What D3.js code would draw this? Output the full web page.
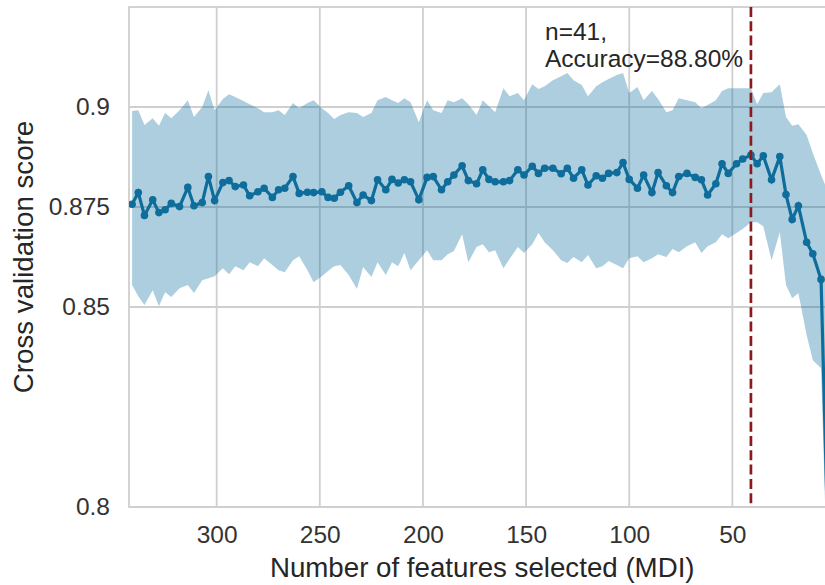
<!DOCTYPE html>
<html>
<head>
<meta charset="utf-8">
<script src="https://cdn.jsdelivr.net/npm/d3@7"></script>
<style>
  body { margin: 0; background: #fff; }
  text { font-family: "Liberation Sans", Arial, sans-serif; }
</style>
</head>
<body>
<div id="chart"></div>
<script>
// number of features kept at each RFECV step (x axis runs backwards)
var nFeatures = [341,338,335,331,328,325,322,318,314,311,
  307,304,301,297,294,291,287,284,280,277,
  273,270,267,263,260,256,253,249,246,243,
  240,236,232,229,225,222,218,215,212,209,
  206,202,198,195,191,188,185,181,178,174,
  171,168,165,161,158,154,151,147,144,141,
  137,133,130,127,123,120,116,113,110,106,
  103,100,96,93,89,86,82,79,76,72,
  68,65,62,58,55,52,48,45,41,38,
  35,31,27,24,21,18,14,11,7,3];

// mean cv score
var meanScore = [0.8757,0.8786,0.8729,0.8768,0.8736,0.8743,0.8759,0.8751,0.8799,0.8753,
  0.8761,0.8826,0.8766,0.8811,0.8816,0.8801,0.8805,0.8778,0.8788,0.8797,
  0.8774,0.8793,0.8797,0.8826,0.8784,0.8787,0.8786,0.8788,0.8774,0.8772,
  0.8787,0.8803,0.8761,0.8780,0.8766,0.8818,0.8793,0.8819,0.8810,0.8818,
  0.8813,0.8768,0.8824,0.8826,0.8793,0.8813,0.8830,0.8853,0.8816,0.8808,
  0.8843,0.8819,0.8813,0.8813,0.8816,0.8843,0.8830,0.8852,0.8834,0.8847,
  0.8847,0.8833,0.8847,0.8822,0.8843,0.8805,0.8828,0.8822,0.8834,0.8836,
  0.8861,0.8819,0.8797,0.8830,0.8786,0.8836,0.8803,0.8786,0.8826,0.8834,
  0.8824,0.8818,0.8780,0.8808,0.8858,0.8834,0.8858,0.8870,0.8880,0.8858,
  0.8878,0.8818,0.8876,0.8781,0.8719,0.8753,0.8662,0.8633,0.8569,0.7780];

// top of the shaded band
var upperScore = [0.8990,0.8992,0.8955,0.8972,0.8953,0.8985,0.8972,0.8992,0.9017,0.8975,
  0.9000,0.9042,0.8992,0.9020,0.9032,0.9025,0.9015,0.9007,0.8997,0.8987,
  0.8987,0.8992,0.8980,0.9010,0.8997,0.9010,0.9017,0.8997,0.8985,0.8970,
  0.8980,0.8987,0.8985,0.8975,0.8985,0.9017,0.9025,0.9017,0.9010,0.9022,
  0.9012,0.8962,0.9017,0.8992,0.8985,0.9017,0.9012,0.9022,0.9007,0.8980,
  0.9017,0.9002,0.8987,0.9047,0.9027,0.9035,0.9017,0.9057,0.9045,0.9052,
  0.9067,0.9077,0.9085,0.9067,0.9055,0.9027,0.9052,0.9062,0.9070,0.9080,
  0.9085,0.9035,0.9050,0.9017,0.9040,0.9020,0.8987,0.8992,0.9022,0.9017,
  0.9012,0.8997,0.9005,0.9017,0.9040,0.9047,0.9047,0.9047,0.9047,0.9007,
  0.9035,0.9037,0.9057,0.8975,0.8953,0.8957,0.8930,0.8885,0.8830,0.8780];

// bottom of the shaded band
var lowerScore = [0.8555,0.8527,0.8505,0.8542,0.8502,0.8537,0.8525,0.8547,0.8555,0.8535,
  0.8567,0.8572,0.8577,0.8597,0.8582,0.8602,0.8592,0.8612,0.8602,0.8622,
  0.8605,0.8592,0.8587,0.8617,0.8627,0.8592,0.8562,0.8577,0.8590,0.8602,
  0.8605,0.8580,0.8545,0.8600,0.8575,0.8612,0.8580,0.8612,0.8602,0.8635,
  0.8592,0.8617,0.8642,0.8617,0.8617,0.8632,0.8640,0.8682,0.8612,0.8650,
  0.8657,0.8637,0.8642,0.8597,0.8620,0.8650,0.8635,0.8657,0.8685,0.8662,
  0.8642,0.8617,0.8610,0.8625,0.8612,0.8630,0.8597,0.8602,0.8615,0.8605,
  0.8597,0.8622,0.8627,0.8612,0.8622,0.8632,0.8625,0.8645,0.8637,0.8652,
  0.8662,0.8635,0.8652,0.8662,0.8682,0.8672,0.8685,0.8695,0.8712,0.8712,
  0.8702,0.8617,0.8687,0.8555,0.8522,0.8535,0.8430,0.8367,0.8347,0.7650];

var xTicks = [300, 250, 200, 150, 100, 50];
var yTicks = [0.8, 0.85, 0.875, 0.9];
var bestN = 41;
var bestLabel = ["n=41,", "Accuracy=88.80%"];

var width = 825;
var height = 585;

// plot box (don't call it "top", window.top is read only!)
var boxL = 129, boxT = 7, boxR = 835.5, boxB = 507;

var svg = d3
  .select("#chart")
  .append("svg")
  .attr("width", width)
  .attr("height", height);

var rows = nFeatures.map(function(n, i) {
  return { n: n, mean: meanScore[i], hi: upperScore[i], lo: lowerScore[i] };
});

// scales - x is reversed, big counts on the left
var xscale = d3.scaleLinear().domain([342.5, 0]).range([boxL, boxR]);
var yscale = d3.scaleLinear().domain([0.8, 0.925]).range([boxB, boxT]);

svg.append("clipPath")
  .attr("id", "plotclip")
  .append("rect")
  .attr("x", boxL)
  .attr("y", boxT)
  .attr("width", boxR - boxL)
  .attr("height", boxB - boxT);

// grid first
var grid = svg.append("g").attr("class", "grid");
grid.selectAll("line.vx")
  .data(xTicks)
  .enter()
  .append("line")
  .attr("x1", function(d) { return xscale(d); })
  .attr("x2", function(d) { return xscale(d); })
  .attr("y1", boxT)
  .attr("y2", boxB)
  .attr("stroke", "#cfcfcf")
  .attr("stroke-width", 1.8);
grid.selectAll("line.hy")
  .data(yTicks)
  .enter()
  .append("line")
  .attr("x1", boxL)
  .attr("x2", boxR)
  .attr("y1", function(d) { return yscale(d); })
  .attr("y2", function(d) { return yscale(d); })
  .attr("stroke", "#cfcfcf")
  .attr("stroke-width", 1.8);

// frame
svg.append("rect")
  .attr("x", boxL)
  .attr("y", boxT)
  .attr("width", boxR - boxL)
  .attr("height", boxB - boxT)
  .attr("fill", "none")
  .attr("stroke", "#cfcfcf")
  .attr("stroke-width", 1.8);

var plot = svg.append("g").attr("clip-path", "url(#plotclip)");

// std band
var band = d3.area()
  .x(function(d) { return xscale(d.n); })
  .y0(function(d) { return yscale(d.lo); })
  .y1(function(d) { return yscale(d.hi); });

plot.append("path")
  .datum(rows)
  .attr("d", band)
  .attr("fill", "#0b6ea0")
  .attr("fill-opacity", 0.34);

// mean line + dots
var meanLine = d3.line()
  .x(function(d) { return xscale(d.n); })
  .y(function(d) { return yscale(d.mean); });

plot.append("path")
  .datum(rows)
  .attr("d", meanLine)
  .attr("fill", "none")
  .attr("stroke", "#0e6d9b")
  .attr("stroke-width", 3.2);

plot.selectAll("circle")
  .data(rows)
  .enter()
  .append("circle")
  .attr("cx", function(d) { return xscale(d.n); })
  .attr("cy", function(d) { return yscale(d.mean); })
  .attr("r", 3.8)
  .attr("fill", "#0e6d9b");

// best n marker
plot.append("line")
  .attr("x1", xscale(bestN))
  .attr("x2", xscale(bestN))
  .attr("y1", boxT)
  .attr("y2", boxB)
  .attr("stroke", "#8b1a1a")
  .attr("stroke-width", 2.7)
  .attr("stroke-dasharray", "10,4.3");

svg.selectAll("text.note")
  .data(bestLabel)
  .enter()
  .append("text")
  .attr("class", "note")
  .attr("x", 545)
  .attr("y", function(d, i) { return 40 + i * 27; })
  .attr("font-size", 24.5)
  .attr("fill", "#262626")
  .text(function(d) { return d; });

// axes (no lines, just labels)
var xAxis = d3.axisBottom(xscale).tickValues(xTicks).tickSize(0).tickPadding(19);
var yAxis = d3.axisLeft(yscale).tickValues(yTicks).tickSize(0).tickPadding(19)
  .tickFormat(function(d) { return String(d); });

var gx = svg.append("g")
  .attr("transform", "translate(0," + boxB + ")")
  .call(xAxis);
var gy = svg.append("g")
  .attr("transform", "translate(" + boxL + ",0)")
  .call(yAxis);

[gx, gy].forEach(function(g) {
  g.select(".domain").remove();
  g.selectAll("text")
    .attr("font-size", 24.5)
    .attr("font-family", "Liberation Sans, Arial, sans-serif")
    .attr("fill", "#333");
});

svg.append("text")
  .attr("x", (boxL + boxR) / 2)
  .attr("y", 577)
  .attr("text-anchor", "middle")
  .attr("font-size", 27.7)
  .attr("fill", "#262626")
  .text("Number of features selected (MDI)");

svg.append("text")
  .attr("transform", "translate(33," + (boxT + boxB) / 2 + ")rotate(-90)")
  .attr("text-anchor", "middle")
  .attr("font-size", 27.7)
  .attr("fill", "#262626")
  .text("Cross validation score");
</script>
</body>
</html>
